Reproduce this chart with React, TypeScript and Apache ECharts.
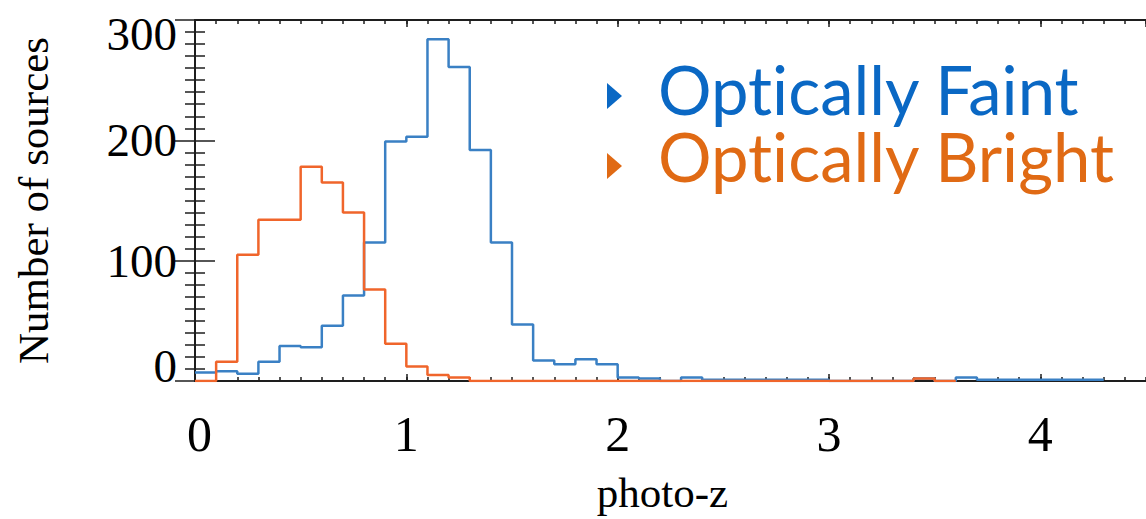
import React, { useEffect, useRef } from "react";
import * as echarts from "echarts";

// ---- data ----
const binWidth = 0.1;
// Optically Faint counts per 0.1 photo-z bin, starting at z = 0
const faintCounts = [
  7, 8, 6, 16, 29, 28, 46, 71, 115, 199,
  203, 284, 261, 192, 115, 47, 17, 14, 18, 14,
  3, 2, 0, 3, 1, 1, 1, 1, 1, 1,
  0, 0, 0, 0, 2, 0, 3, 1, 1, 1,
  1, 1, 1,
];
// Optically Bright counts per 0.1 photo-z bin, starting at z = 0
const brightCounts = [
  0, 16, 105, 134, 134, 178, 165, 140, 76, 31,
  12, 5, 3, 0, 0, 0, 0, 0, 0, 0,
  0, 0, 0, 0, 0, 0, 0, 0, 0, 0,
  0, 0, 0, 0, 2, 0,
];
const seriesNames = ["Optically Faint", "Optically Bright"];
const xMin = 0;
const xMax = 4.5;
const yMin = 0;
const yMax = 300;
const xMajor = 1;
const xMinor = 0.1;
const yMajor = 100;

const faintLine = "#3a80c4";
const brightLine = "#f0652b";
const faintText = "#0a68c4";
const brightText = "#e06a14";
const axisColor = "#1e1e1e";
const serif = "'Liberation Serif', 'Times New Roman', serif";
const sans = "Lato, 'Open Sans', sans-serif";

function stepPoints(counts: number[]): number[][] {
  const pts: number[][] = [];
  counts.forEach((c, i) => {
    const x0 = Math.round(i * binWidth * 1000) / 1000;
    const x1 = Math.round((i + 1) * binWidth * 1000) / 1000;
    pts.push([x0, c]);
    pts.push([x1, c]);
  });
  return pts;
}

export default function App() {
  const ref = useRef<HTMLDivElement>(null);
  useEffect(() => {
    if (!ref.current) return;
    const chart = echarts.init(ref.current, null, { renderer: "svg" });
    const tickLine = { color: axisColor, width: 1.5 };
    const xBase = { type: "value", min: xMin, max: xMax, splitLine: { show: false } };
    const yBase = { type: "value", min: yMin, max: yMax, interval: yMajor, splitLine: { show: false } };
    const yLabelStyle = { fontFamily: serif, fontSize: 47, color: "#000" };
    chart.setOption({
      animation: false,
      backgroundColor: "#ffffff",
      // the right frame edge (z = 4.5) lies just beyond the picture, as in the reference
      grid: { left: 195, right: -4.5, top: 20, bottom: 129, containLabel: false },
      xAxis: [
        {
          ...xBase,
          position: "bottom",
          interval: xMajor,
          axisLine: { show: true, lineStyle: { color: axisColor, width: 2 } },
          axisTick: { show: true, inside: true, length: 7, lineStyle: tickLine },
          axisLabel: {
            show: true,
            margin: 28,
            fontFamily: serif,
            fontSize: 50,
            color: "#000",
            showMaxLabel: false,
            formatter: (v: number) => (Number.isInteger(v) ? (v === 0 ? "{z|0}" : String(v)) : ""),
            rich: { z: { fontFamily: serif, fontSize: 50, color: "#000", padding: [0, 0, 0, 9] } },
          },
          name: "photo-z",
          nameLocation: "middle",
          nameGap: 90,
          nameTextStyle: { fontFamily: serif, fontSize: 43, color: "#000", padding: [0, 16, 0, 0] },
        },
        {
          ...xBase,
          position: "bottom",
          interval: xMinor,
          axisLine: { show: false },
          axisTick: { show: true, inside: true, length: 4, lineStyle: tickLine },
          axisLabel: { show: false },
        },
        {
          ...xBase,
          position: "top",
          interval: xMajor,
          axisLine: { show: true, lineStyle: { color: axisColor, width: 2 } },
          axisTick: { show: true, inside: true, length: 7, lineStyle: tickLine },
          axisLabel: { show: false },
        },
        {
          ...xBase,
          position: "top",
          interval: xMinor,
          axisLine: { show: false },
          axisTick: { show: true, inside: true, length: 4, lineStyle: tickLine },
          axisLabel: { show: false },
        },
      ],
      yAxis: [
        {
          ...yBase,
          position: "left",
          axisLine: { show: true, lineStyle: { color: axisColor, width: 2 } },
          axisTick: { show: true, inside: true, length: 20, lineStyle: tickLine },
          minorTick: { show: true, splitNumber: 10, length: 10, lineStyle: tickLine },
          axisLabel: {
            show: true,
            margin: 18,
            ...yLabelStyle,
            formatter: (v: number) =>
              v === yMax ? `{t|${v}}` : v === yMin ? `{b|${v}}` : `{n|${v}}`,
            rich: {
              n: { ...yLabelStyle },
              t: { ...yLabelStyle, padding: [28, 0, 0, 0] },
              b: { ...yLabelStyle, padding: [0, 0, 30, 0] },
            },
          },
          name: "Number of sources",
          nameLocation: "middle",
          nameGap: 140,
          nameTextStyle: { fontFamily: serif, fontSize: 43, color: "#000" },
        },
        {
          ...yBase,
          position: "right",
          axisLine: { show: true, lineStyle: { color: axisColor, width: 2 } },
          axisTick: { show: true, inside: true, length: 20, lineStyle: tickLine },
          minorTick: { show: true, splitNumber: 10, length: 10, lineStyle: tickLine },
          axisLabel: { show: false },
        },
      ],
      series: [
        {
          name: seriesNames[0],
          type: "line",
          xAxisIndex: 0,
          yAxisIndex: 0,
          data: stepPoints(faintCounts),
          symbol: "none",
          lineStyle: { color: faintLine, width: 2.5 },
          z: 3,
        },
        {
          name: seriesNames[1],
          type: "line",
          xAxisIndex: 0,
          yAxisIndex: 0,
          data: stepPoints(brightCounts),
          symbol: "none",
          lineStyle: { color: brightLine, width: 2.5 },
          z: 4,
        },
      ],
      graphic: [
        {
          type: "polygon",
          shape: { points: [[607, 83], [622, 96], [607, 109]] },
          style: { fill: faintText },
        },
        {
          type: "text",
          x: 658,
          y: 89,
          style: {
            text: seriesNames[0],
            fill: faintText,
            fontFamily: sans,
            fontSize: 67,
            lineHeight: 62,
            verticalAlign: "middle",
            align: "left",
          },
        },
        {
          type: "polygon",
          shape: { points: [[607, 153], [622, 166], [607, 179]] },
          style: { fill: brightText },
        },
        {
          type: "text",
          x: 658,
          y: 156,
          style: {
            text: seriesNames[1],
            fill: brightText,
            fontFamily: sans,
            fontSize: 67,
            lineHeight: 62,
            verticalAlign: "middle",
            align: "left",
          },
        },
      ],
    });
    return () => chart.dispose();
  }, []);
  return (
    <>
      <style>{"svg text{font-variant-ligatures:none;font-feature-settings:'liga' 0,'clig' 0;}"}</style>
      <div
        ref={ref}
        style={{ position: "fixed", left: 0, top: 0, width: 1146, height: 519, overflow: "hidden", background: "#fff" }}
      />
    </>
  );
}
